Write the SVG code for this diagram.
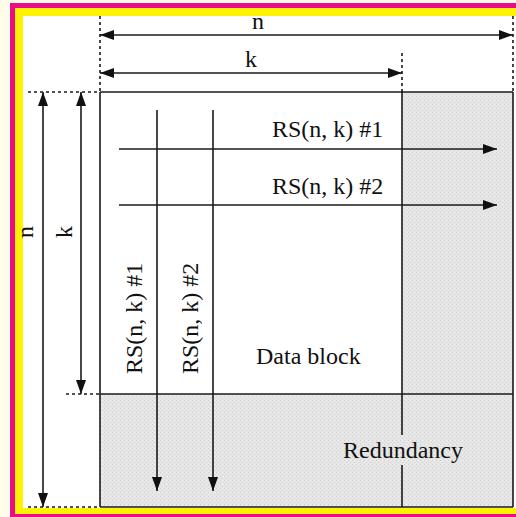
<svg xmlns="http://www.w3.org/2000/svg" width="516" height="517" viewBox="0 0 516 517">
<style>
.ln{stroke:#1a1a1a;stroke-width:1.6;fill:none}
.dash{stroke:#1a1a1a;stroke-width:1.6;stroke-dasharray:3,3;fill:none}
.t{font-family:"Liberation Serif","Times New Roman",serif;font-size:24px;fill:#111}
.gray{fill:url(#tex)}
</style>
<defs>
<pattern id="tex" width="4" height="4" patternUnits="userSpaceOnUse">
<rect width="4" height="4" fill="#e6e6e6"/>
<rect x="0" y="0" width="1" height="1" fill="#cfcfcf"/>
<rect x="2" y="2" width="1" height="1" fill="#d4d4d4"/>
<rect x="2" y="0" width="1" height="1" fill="#f2f2f2"/>
</pattern>
<marker id="ah" markerUnits="userSpaceOnUse" markerWidth="14" markerHeight="12" refX="14" refY="5" orient="auto-start-reverse" viewBox="0 0 14 10">
<path d="M0,0 L14,5 L0,10 z" fill="#111"/>
</marker>
</defs>
<rect width="516" height="517" fill="#fffde8"/>
<rect x="10" y="3" width="520" height="520" fill="#ec0b8b"/>
<rect x="15" y="8" width="520" height="506" fill="#fff200"/>
<rect x="23" y="16" width="520" height="492" fill="#ffffff"/>

<g id="redundancy-column">
<rect class="gray" x="402" y="92" width="111" height="302"/>
</g>
<g id="redundancy">
<rect class="gray" x="100" y="394" width="413" height="113"/>
<text class="t" x="343" y="458">Redundancy</text>
</g>
<g id="data-block">
<rect x="100" y="92" width="302" height="302" fill="#ffffff"/>
<text class="t" x="256" y="364">Data block</text>
</g>
<g id="grid">
<line class="ln" x1="100" y1="92" x2="513" y2="92"/>
<line class="ln" x1="100" y1="92" x2="100" y2="507"/>
<line class="ln" x1="513" y1="92" x2="513" y2="507"/>
<line class="ln" x1="100" y1="394" x2="513" y2="394"/>
<line class="ln" x1="100" y1="507" x2="513" y2="507"/>
<line class="ln" x1="402" y1="92" x2="402" y2="435"/>
<line class="ln" x1="402" y1="465" x2="402" y2="507"/>
</g>
<g id="dimension-guides">
<line class="dash" x1="100" y1="16" x2="100" y2="92"/>
<line class="dash" x1="402" y1="53" x2="402" y2="92"/>
<line class="dash" x1="513" y1="16" x2="513" y2="92"/>
<line class="dash" x1="28" y1="92" x2="100" y2="92"/>
<line class="dash" x1="66" y1="394" x2="100" y2="394"/>
<line class="dash" x1="28" y1="507" x2="100" y2="507"/>
</g>
<g id="connectors">
<line class="ln" x1="100" y1="35" x2="513" y2="35" marker-start="url(#ah)" marker-end="url(#ah)"/>
<line class="ln" x1="100" y1="73" x2="402" y2="73" marker-start="url(#ah)" marker-end="url(#ah)"/>
<line class="ln" x1="43" y1="92" x2="43" y2="507" marker-start="url(#ah)" marker-end="url(#ah)"/>
<line class="ln" x1="81" y1="92" x2="81" y2="394" marker-start="url(#ah)" marker-end="url(#ah)"/>
<line class="ln" x1="119" y1="149" x2="497" y2="149" marker-end="url(#ah)"/>
<line class="ln" x1="119" y1="205" x2="497" y2="205" marker-end="url(#ah)"/>
<line class="ln" x1="157" y1="110" x2="157" y2="491" marker-end="url(#ah)"/>
<line class="ln" x1="213" y1="110" x2="213" y2="491" marker-end="url(#ah)"/>
</g>
<g id="labels">
<text class="t" x="258" y="29" text-anchor="middle">n</text>
<text class="t" x="251" y="67" text-anchor="middle">k</text>
<text class="t" transform="translate(33,232) rotate(-90)" text-anchor="middle">n</text>
<text class="t" transform="translate(72,232) rotate(-90)" text-anchor="middle">k</text>
<text class="t" x="272" y="137">RS(n, k) #1</text>
<text class="t" x="272" y="194">RS(n, k) #2</text>
<text class="t" transform="translate(142,374) rotate(-90)">RS(n, k) #1</text>
<text class="t" transform="translate(198,374) rotate(-90)">RS(n, k) #2</text>
</g>
</svg>
